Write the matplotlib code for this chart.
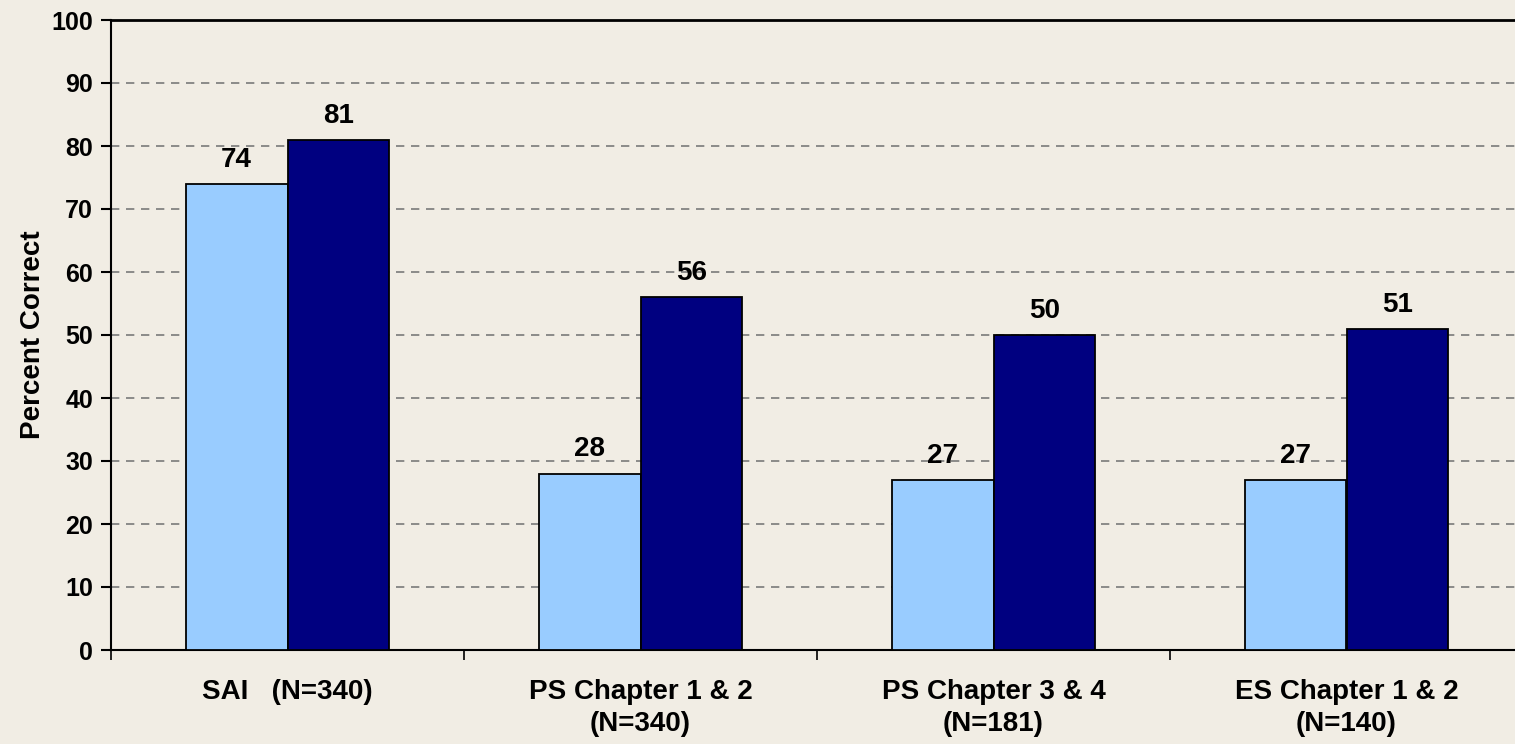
import matplotlib.pyplot as plt
import numpy as np

categories = ['SAI   (N=340)', 'PS Chapter 1 & 2\n(N=340)',
              'PS Chapter 3 & 4\n(N=181)', 'ES Chapter 1 & 2\n(N=140)']
light_vals = [74, 28, 27, 27]
dark_vals = [81, 56, 50, 51]
yticks = list(range(0, 101, 10))

plt.rcParams['font.family'] = ['Liberation Sans', 'DejaVu Sans']
plt.rcParams['font.weight'] = 'bold'

bg = '#F1EDE4'
fig = plt.figure(figsize=(15.15, 7.44), dpi=100, facecolor=bg)
ax = fig.add_axes([111 / 1515, 1 - 650 / 744, 1412 / 1515, 630 / 744])
ax.set_facecolor(bg)

x = np.arange(len(categories))
w = 0.288
b1 = ax.bar(x - w / 2, light_vals, w, color='#99CCFF', edgecolor='black', linewidth=1.3, zorder=3)
b2 = ax.bar(x + w / 2, dark_vals, w, color='#000080', edgecolor='black', linewidth=1.3, zorder=3)

for bars, vals in ((b1, light_vals), (b2, dark_vals)):
    for r, v in zip(bars, vals):
        ax.annotate(str(v), (r.get_x() + r.get_width() / 2, v), xytext=(0, 8),
                    textcoords='offset points', ha='center', va='bottom',
                    fontsize=20, fontweight='bold')

ax.set_ylim(0, 100)
ax.set_xlim(-0.5, len(categories) - 0.5)
ax.set_yticks(yticks)
ax.set_yticklabels([str(t) for t in yticks], fontsize=18, fontweight='bold')
for t in yticks[1:-1]:
    ax.axhline(t, color='#7a7a7a', linestyle=(0, (5, 4)), linewidth=1.2, zorder=1)

# category labels without ticks, ticks at category boundaries
ax.set_xticks(x)
ax.set_xticklabels(categories, fontsize=20, fontweight='bold', linespacing=1.3)
ax.tick_params(axis='x', length=0, pad=21)
ax.set_xticks(np.arange(len(categories) + 1) - 0.5, minor=True)
ax.tick_params(axis='x', which='minor', length=7, width=1.2, direction='out')
ax.tick_params(axis='y', length=7, width=1.5, direction='out', pad=6)

ax.set_ylabel('Percent Correct', fontsize=20, fontweight='bold', labelpad=4)

for s in ('left', 'bottom', 'top'):
    ax.spines[s].set_linewidth(1.5)
    ax.spines[s].set_color('black')
ax.spines['top'].set_linewidth(2)
ax.spines['right'].set_visible(False)

plt.savefig('out.png', dpi=100, facecolor=bg)
plt.close()
